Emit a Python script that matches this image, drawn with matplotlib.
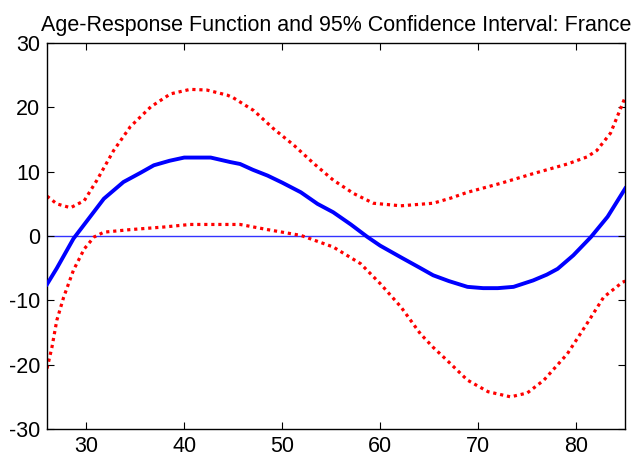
import numpy as np
import matplotlib
matplotlib.use("Agg")
import matplotlib.pyplot as plt

# Age grid and estimated values
age_mid = [26, 27, 28.7, 30.1, 31.8, 33.8, 35.5, 36.9, 38.5, 40, 42.7, 44.7, 45.7,
           47, 48.5, 50, 51.9, 53.6, 55.2, 57, 58.7, 60, 62.1, 64, 65.4, 67,
           68.9, 70.5, 72, 73.6, 75.6, 77, 78.1, 79.7, 81.5, 83.2, 85]
resp_mid = [-7.5, -5.0, -0.4, 2.4, 5.8, 8.4, 9.8, 11.0, 11.7, 12.2, 12.2, 11.5, 11.2,
            10.3, 9.4, 8.3, 6.8, 5.0, 3.7, 1.8, -0.15, -1.5, -3.3, -4.9, -6.1, -7.0,
            -7.9, -8.1, -8.1, -7.9, -6.9, -6.0, -5.1, -3.0, -0.15, 3.0, 7.4]

age_up = [26, 27, 28.4, 29.8, 31.1, 32.8, 34.5, 36.6, 38.6, 40.6, 42.3, 44.4,
          45, 47.1, 49.1, 51.2, 53.2, 55.2, 57.3, 59.3, 62.1, 65.4, 67.2, 68.9,
          72.3, 75.6, 79.1, 81.1, 82.1, 83.5, 85]
resp_up = [6.2, 5.0, 4.4, 5.5, 8.7, 13.3, 17.0, 20.1, 22.1, 22.8, 22.7, 21.9,
           21.5, 19.5, 16.7, 14.1, 11.3, 8.7, 6.6, 5.1, 4.7, 5.1, 5.9, 6.8,
           8.2, 9.7, 11.2, 12.3, 13.3, 16.0, 21.6]

age_lo = [26, 26.5, 27, 27.7, 28.7, 29.8, 30.8, 31.8, 34.5, 37.9, 40.6, 44.7,
          45.7, 48.5, 51.9, 55.2, 58, 60, 62.1, 64.1, 65.4, 66.8, 68.9, 71,
          73.3, 75, 76.7, 79.1, 81.1, 82.8, 84.7, 85]
resp_lo = [-20.6, -17.3, -13.1, -9.5, -5.3, -2.0, -0.15, 0.6, 1.0, 1.4, 1.8, 1.8,
           1.8, 1.0, 0.1, -1.7, -4.3, -7.4, -11.0, -15.2, -17.3, -19.3, -22.4, -24.2,
           -25.0, -24.4, -22.4, -18.3, -13.6, -9.5, -7.2, -7.0]

title = "Age-Response Function and 95% Confidence Interval: France"
xticks = [30, 40, 50, 60, 70, 80]
yticks = [-30, -20, -10, 0, 10, 20, 30]

plt.rcParams['font.family'] = ['Liberation Sans', 'DejaVu Sans']
plt.rcParams['axes.unicode_minus'] = False

fig = plt.figure(figsize=(6.38, 4.63), dpi=100)
ax = fig.add_axes([0.0737, 0.0734, 0.9063, 0.8336])

ax.axhline(0, color='#3333ff', lw=1.0, zorder=1)
ax.plot(age_up, resp_up, color='red', lw=2.3, linestyle=(0, (1, 1.2)), zorder=2)
ax.plot(age_lo, resp_lo, color='red', lw=2.3, linestyle=(0, (1, 1.2)), zorder=2)
ax.plot(age_mid, resp_mid, color='#0000ff', lw=2.8, zorder=3)

ax.set_xlim(26, 85)
ax.set_ylim(-30, 30)
ax.set_xticks(xticks)
ax.set_yticks(yticks)
ax.tick_params(direction='in', length=5, width=0.8, top=True, right=True,
               labelsize=15.5, pad=5)
for s in ax.spines.values():
    s.set_linewidth(1.0)
ax.set_title(title, fontsize=15.5, pad=9)

fig.savefig("out.png", dpi=100)
